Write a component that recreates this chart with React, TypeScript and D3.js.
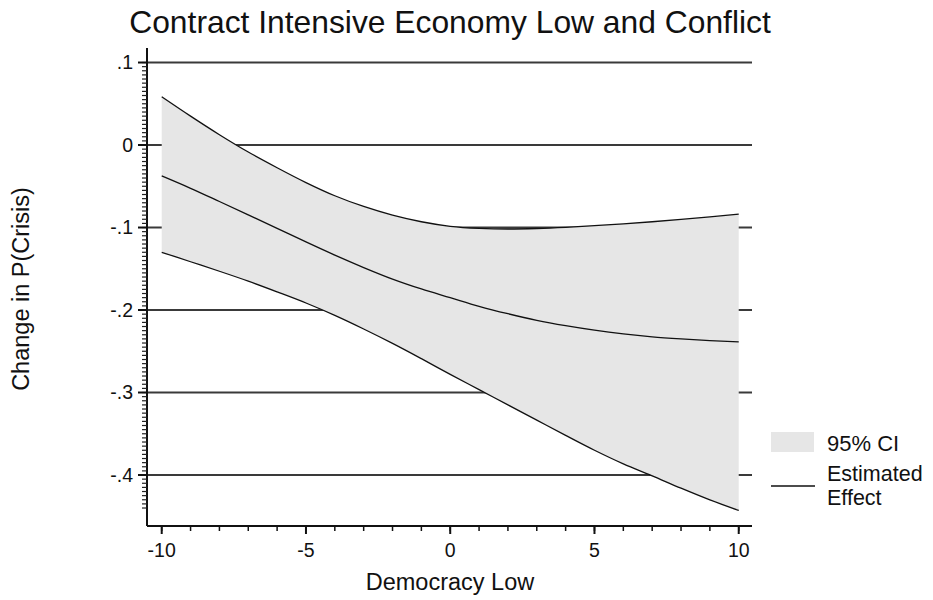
import * as d3 from 'd3';

// values
const democracy = [-10, -9, -8, -7, -6, -5, -4, -3, -2, -1, 0, 1, 2, 3, 4, 5, 6, 7, 8, 9, 10];
const effect = [-0.0375, -0.0525, -0.0685, -0.0847, -0.101, -0.1175, -0.1335, -0.1485, -0.1625, -0.1745, -0.185,
  -0.1955, -0.2045, -0.2125, -0.219, -0.2245, -0.229, -0.2325, -0.235, -0.237, -0.2385];
const upper = [0.0585, 0.035, 0.0125, -0.0085, -0.0275, -0.0455, -0.0615, -0.0745, -0.085, -0.093, -0.0985,
  -0.101, -0.1018, -0.1012, -0.0998, -0.0978, -0.0955, -0.093, -0.0902, -0.0872, -0.0838];
const lower = [-0.13, -0.1415, -0.153, -0.165, -0.178, -0.1915, -0.2065, -0.223, -0.2405, -0.259, -0.278,
  -0.2965, -0.315, -0.3335, -0.352, -0.37, -0.3865, -0.401, -0.416, -0.4302, -0.443];

const yTicks = [0.1, 0, -0.1, -0.2, -0.3, -0.4];
const yTickLabels = ['.1', '0', '-.1', '-.2', '-.3', '-.4'];
const xTicks = [-10, -5, 0, 5, 10];
const xMinorTicks = d3.range(-10, 11, 1);
const yMinorTicks = d3.range(-88, 21).map((i) => i * 0.005);

const title = 'Contract Intensive Economy Low and Conflict';
const xLabel = 'Democracy Low';
const yLabel = 'Change in P(Crisis)';

const FONT = '"Liberation Sans", Arial, Helvetica, sans-serif';

export default function App() {
  const x = d3.scaleLinear().domain([-10.51, 10.46]).range([147, 752]);
  const y = d3.scaleLinear().domain([-0.4618, 0.1176]).range([526, 48]);

  const rows = democracy.map((d, i) => ({ d, e: effect[i], lo: lower[i], hi: upper[i] }));

  const band = d3.area<typeof rows[number]>()
    .x((r) => x(r.d))
    .y0((r) => y(r.lo))
    .y1((r) => y(r.hi))
    .curve(d3.curveMonotoneX);
  const line = (key: 'e' | 'lo' | 'hi') => d3.line<typeof rows[number]>()
    .x((r) => x(r.d))
    .y((r) => y(r[key]))
    .curve(d3.curveMonotoneX)(rows) || '';

  const [x0, x1] = x.range();
  const [yBottom, yTop] = y.range();

  return (
    <svg width={933} height={600} style={{ position: 'absolute', left: 0, top: 0, background: '#fff' }}
      fontFamily={FONT}>
      <text x={450} y={33} textAnchor="middle" fontSize={31.8} fill="#111">{title}</text>

      {/* grid lines */}
      {yTicks.map((t) => (
        <line key={t} x1={x0} x2={x1} y1={y(t)} y2={y(t)} stroke="#3a3a3a" strokeWidth={2} />
      ))}

      {/* confidence band and lines */}
      <path d={band(rows) || ''} fill="#e6e6e6" />
      <path d={line('hi')} fill="none" stroke="#111" strokeWidth={1.3} />
      <path d={line('e')} fill="none" stroke="#111" strokeWidth={1.3} />
      <path d={line('lo')} fill="none" stroke="#111" strokeWidth={1.3} />

      {/* y axis */}
      <line x1={x0} x2={x0} y1={yTop} y2={yBottom} stroke="#111" strokeWidth={2} />
      {yMinorTicks.map((t) => (
        <line key={t} x1={x0 - 5} x2={x0} y1={y(t)} y2={y(t)} stroke="#222" strokeWidth={1.2} />
      ))}
      {yTicks.map((t, i) => (
        <g key={t}>
          <line x1={x0 - 9} x2={x0} y1={y(t)} y2={y(t)} stroke="#111" strokeWidth={2} />
          <text x={133} y={y(t)} dy="0.35em" textAnchor="end" fontSize={19.5} fill="#111">{yTickLabels[i]}</text>
        </g>
      ))}

      {/* x axis */}
      <line x1={x0} x2={x1} y1={yBottom} y2={yBottom} stroke="#111" strokeWidth={2} />
      {xMinorTicks.map((t) => (
        <line key={t} x1={x(t)} x2={x(t)} y1={yBottom} y2={yBottom + 5} stroke="#111" strokeWidth={1.5} />
      ))}
      {xTicks.map((t) => (
        <g key={t}>
          <line x1={x(t)} x2={x(t)} y1={yBottom} y2={yBottom + 8} stroke="#111" strokeWidth={2} />
          <text x={x(t)} y={557} textAnchor="middle" fontSize={19.5} fill="#111">{t}</text>
        </g>
      ))}

      <text x={450} y={590} textAnchor="middle" fontSize={23.5} fill="#111">{xLabel}</text>
      <text transform="translate(29,289) rotate(-90)" textAnchor="middle" fontSize={23.5} fill="#111">{yLabel}</text>

      {/* legend */}
      <rect x={771} y={432} width={43} height={20} fill="#e6e6e6" />
      <text x={827} y={451} fontSize={22} fill="#111">95% CI</text>
      <line x1={771} x2={815} y1={486} y2={486} stroke="#111" strokeWidth={1.3} />
      <text x={827} y={481} fontSize={21.5} fill="#111">Estimated</text>
      <text x={827} y={505} fontSize={21.5} fill="#111">Effect</text>
    </svg>
  );
}
